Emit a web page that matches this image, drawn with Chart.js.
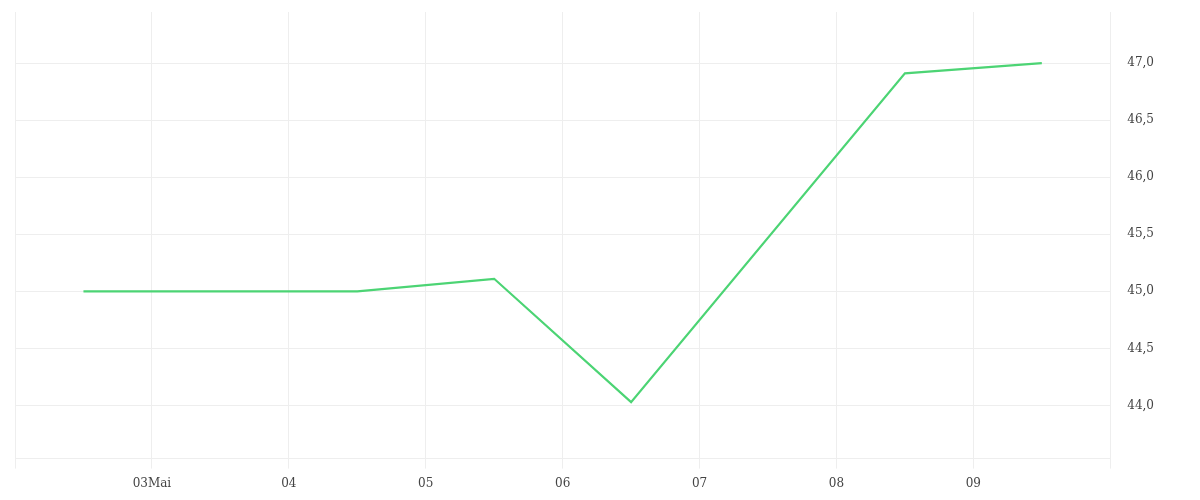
<!DOCTYPE html>
<html>
<head>
<meta charset="utf-8">
<script src="https://cdn.jsdelivr.net/npm/chart.js@4"></script>
<style>
  html, body { margin: 0; padding: 0; background: #fff; }
  #wrap { width: 1200px; height: 500px; }
</style>
</head>
<body>
<div id="wrap"><canvas id="chart"></canvas></div>
<script>
// day positions (noon of each day)
var dayPositions = [2.5, 4.5, 5.5, 6.5, 8.5, 9.5];
var values = [45.0, 45.0, 45.11, 44.03, 46.91, 47.0];
var dayTicks = [2, 3, 4, 5, 6, 7, 8, 9, 10];
var dayLabels = { 3: '03Mai', 4: '04', 5: '05', 6: '06', 7: '07', 8: '08', 9: '09' };
var valueTicks = [44.0, 44.5, 45.0, 45.5, 46.0, 46.5, 47.0];

var points = dayPositions.map(function (d, i) { return { x: d, y: values[i] }; });

var font = { family: "'DejaVu Serif', serif", size: 12 };
var gridColor = '#eeeeee';

var ctx = document.getElementById('chart').getContext('2d');
new Chart(ctx, {
    type: 'line',
    data: {
        datasets: [{
            data: points,
            borderColor: '#4cd474',
            borderWidth: 2.2,
            pointRadius: 0,
            tension: 0,
            fill: false
        }]
    },
    options: {
        responsive: true,
        maintainAspectRatio: false,
        animation: false,
        layout: { padding: { left: 15, top: 12, right: 29, bottom: 1 } },
        plugins: { legend: { display: false }, tooltip: { enabled: false } },
        scales: {
            x: {
                type: 'linear',
                min: 2,
                max: 10,
                afterBuildTicks: function (axis) {
                    axis.ticks = dayTicks.map(function (v) { return { value: v }; });
                },
                grid: { color: gridColor, tickLength: 10, drawTicks: true },
                border: { color: gridColor },
                ticks: {
                    color: '#444',
                    font: font,
                    padding: 8,
                    maxRotation: 0,
                    autoSkip: false,
                    callback: function (v) { return dayLabels[v] || ''; }
                }
            },
            y: {
                position: 'right',
                min: 43.535,
                max: 47.447,
                afterBuildTicks: function (axis) {
                    axis.ticks = valueTicks.map(function (v) { return { value: v }; });
                },
                afterFit: function (axis) {
                    axis.paddingTop = 0;
                    axis.paddingBottom = 0;
                },
                grid: { color: gridColor, drawTicks: false },
                border: { color: gridColor },
                ticks: {
                    color: '#444',
                    font: font,
                    padding: 17,
                    callback: function (v) { return v.toFixed(1).replace('.', ','); }
                }
            }
        }
    }
});
</script>
</body>
</html>
